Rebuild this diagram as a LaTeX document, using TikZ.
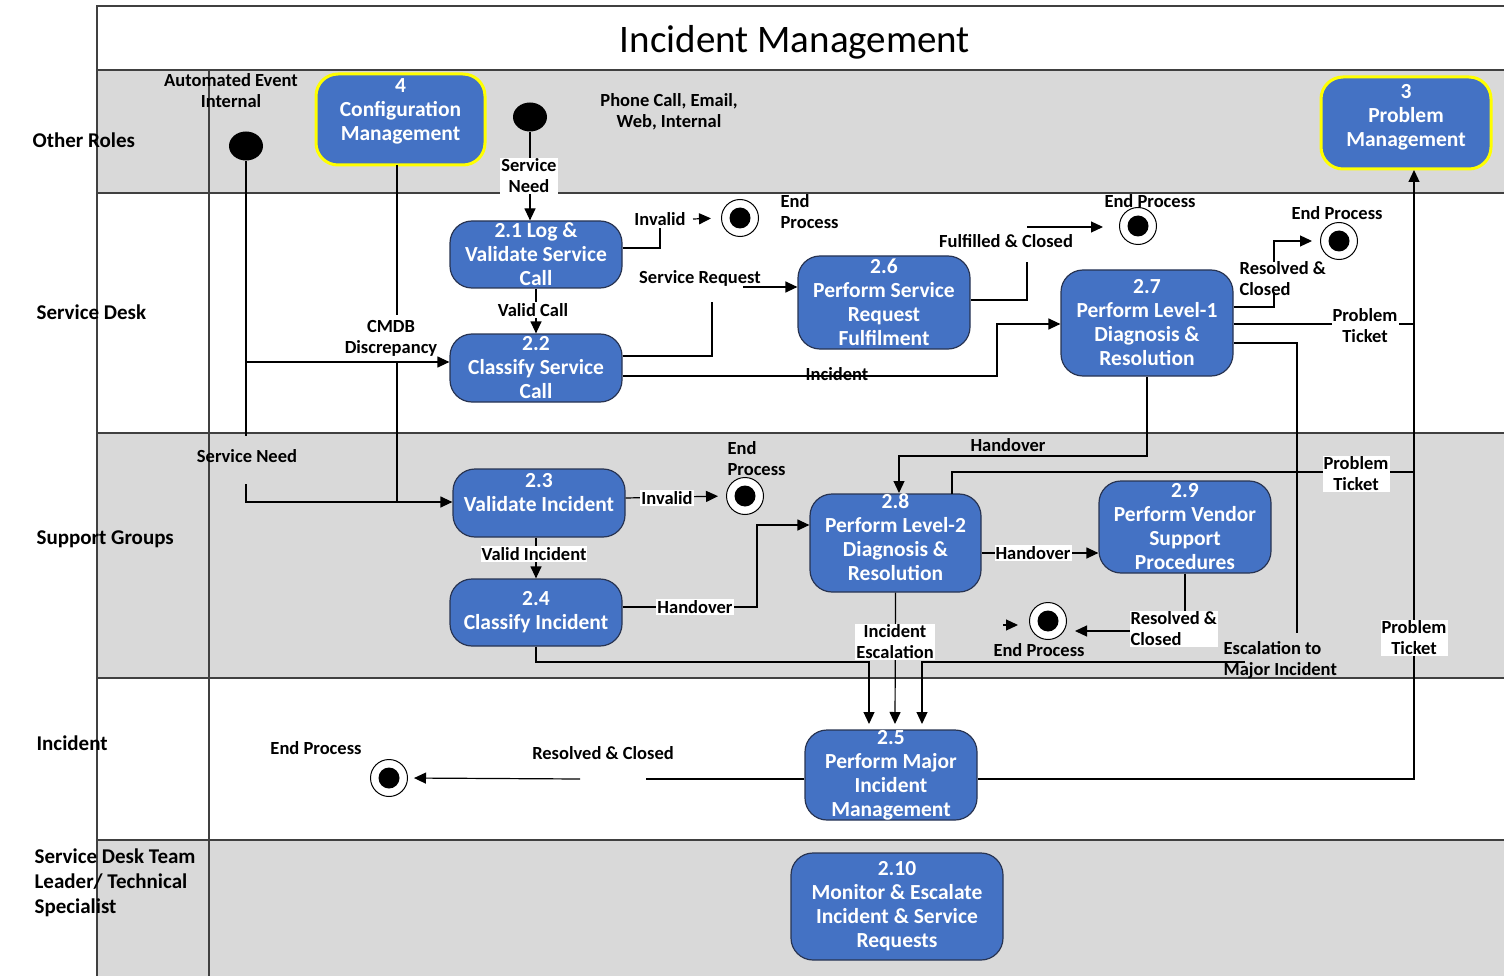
\documentclass[tikz,border=0pt]{standalone}
\usepackage{fontspec}
\setmainfont{Carlito}
\usetikzlibrary{arrows.meta,shapes.geometric}

\definecolor{boxblue}{RGB}{68,114,196}
\definecolor{boxline}{RGB}{40,52,82}
\definecolor{extline}{RGB}{255,255,0}
\definecolor{lanegray}{RGB}{217,217,217}
\definecolor{gridline}{RGB}{64,64,64}

\tikzset{every picture/.style={line width=1.2pt}}
\tikzset{
  proc/.style={draw=boxline, fill=boxblue, rounded corners=22pt, text=white, align=center,
    font=\fontsize{21.5}{24}\bfseries\selectfont, inner xsep=4pt, inner ysep=0pt, line width=1.2pt},
  extproc/.style={proc, draw=extline, line width=3pt},
  startdot/.style={ellipse, fill=black, minimum width=34pt, minimum height=29pt, inner sep=0pt},
  endstate/.style={circle, draw=black, fill=white, line width=1pt, minimum size=37pt, inner sep=0pt,
    path picture={\fill[black] (path picture bounding box.center) circle (10.5pt);}},
  lbl/.style={font=\fontsize{18.5}{21}\bfseries\selectfont, align=center, inner sep=1pt},
  lblw/.style={lbl, fill=white},
  lanetext/.style={font=\fontsize{21}{25}\bfseries\selectfont, anchor=west, align=left, inner sep=0pt},
  grid/.style={draw=gridline, line width=1.3pt},
  arr/.style={-{Triangle[length=12pt,width=11pt]}},
}

\begin{document}
\begin{tikzpicture}[x=1pt,y=1pt,yscale=-1,xscale=1]
        \useasboundingbox (0,0) rectangle (1504,976);

        %Shape: lanes
        \fill[lanegray] (97,70) rectangle (1504,193);
        \fill[lanegray] (97,433) rectangle (1504,678);
        \fill[lanegray] (97,840) rectangle (1504,976);
        \draw[grid] (1504,6) -- (97,6) -- (97,976);
        \foreach \ly in {70,193,433,678,840}
          \draw[grid] (97,\ly) -- (1504,\ly);
        \draw[grid] (209,70) -- (209,976);

        % Text Node
        \node[font=\fontsize{39}{44}\selectfont] (title) at (795,42) {Incident Management};
        \node[lanetext] (lnOther) at (32,140) {Other Roles};
        \node[lanetext] (lnDesk) at (36,312) {Service Desk};
        \node[lanetext] (lnSupport) at (36,539) {Support Groups};
        \node[lanetext] (lnIncident) at (36,743) {Incident};
        \node[lanetext, anchor=north west] (lnLeader) at (34,848) {Service Desk Team\\Leader/ Technical\\Specialist};

        %Shape: start and end states
        \node[startdot] (s1) at (246,146) {};
        \node[startdot] (s2) at (530,117) {};
        \node[endstate] (e1) at (740,218) {};
        \node[endstate] (e2) at (1138,226) {};
        \node[endstate] (e3) at (1339,241) {};
        \node[endstate] (e4) at (745,496) {};
        \node[endstate] (e5) at (1048,621) {};
        \node[endstate] (e6) at (389,778) {};

        %Shape: process boxes
        \node[extproc, minimum width=169pt, minimum height=91pt] (n4) at (400.5,119.5) {4\\Configuration\\Management\\[-5pt]\mbox{}};
        \node[extproc, minimum width=170pt, minimum height=92pt] (n3) at (1406,123) {3\\Problem\\Management\\[-9pt]\mbox{}};
        \node[proc, minimum width=172pt, minimum height=67pt] (n21) at (536,254.5) {2.1 Log \&\\Validate Service\\Call};
        \node[proc, minimum width=172pt, minimum height=68pt] (n22) at (536,368) {2.2\\Classify Service\\Call};
        \node[proc, minimum width=172pt, minimum height=93pt] (n26) at (884,302.5) {2.6\\Perform Service\\Request\\Fulfilment};
        \node[proc, minimum width=172pt, minimum height=106pt] (n27) at (1147,323) {2.7\\Perform Level-1\\Diagnosis \&\\Resolution};
        \node[proc, minimum width=172pt, minimum height=68pt] (n23) at (539,503) {2.3\\Validate Incident\\[-3pt]\mbox{}};
        \node[proc, minimum width=172pt, minimum height=67pt] (n24) at (536,612.5) {2.4\\Classify Incident};
        \node[proc, minimum width=171pt, minimum height=98pt] (n28) at (895.5,543) {2.8\\Perform Level-2\\Diagnosis \&\\Resolution\\[-13pt]\mbox{}};
        \node[proc, minimum width=172pt, minimum height=92pt] (n29) at (1185,527) {2.9\\Perform Vendor\\Support\\Procedures};
        \node[proc, minimum width=172pt, minimum height=90pt] (n25) at (891,775) {2.5\\Perform Major\\Incident\\Management};
        \node[proc, minimum width=212pt, minimum height=107pt] (n210) at (897,906.5) {2.10\\Monitor \& Escalate\\Incident \& Service\\Requests};

        %Straight Lines: other roles
        \draw (s1) -- (246,436);
        \draw[arr] (246,484) |- (n23.west |- 0,502);
        \draw[arr] (246,362) -- (n22.west |- 0,362);
        \draw (397,165) -- (397,315);
        \draw (397,362) -- (397,502);
        \draw[arr] (s2) -- (s2 |- n21.north);

        %Straight Lines: service desk
        \draw (n21.east |- 0,248) -| (660,228);
        \draw[arr, shorten >=10pt] (693,219) -- (e1.west);
        \draw[arr] (n21.south) -- (n22.north);
        \draw (n22.east |- 0,356) -| (712,302);
        \draw[arr] (743,287) -- (n26.west |- 0,287);
        \draw[arr] (n22.east |- 0,376) -| (997,324) -- (n27.west |- 0,324);
        \draw (n26.east |- 0,300) -| (1027,262);
        \draw[arr, shorten >=16pt] (1027,227) -- (e2.west |- 0,227);
        \draw (n27.east |- 0,307) -| (1274,292);
        \draw[arr, shorten >=8pt] (1274,262) |- (e3.west);
        \draw (n27.east |- 0,324) -- (1414,324);
        \draw (n27.east |- 0,343) -| (1297,633);
        \draw[arr] (n27.south) |- (899,456) -- (899,493);

        %Straight Lines: support groups
        \draw[arr, shorten >=8pt] (n23.east |- 0,498) -- (e4.west);
        \draw[arr] (n24.north |- n23.south) -- (n24.north);
        \draw[arr] (n24.east |- 0,607) -| (757,525) -- (n28.west |- 0,525);
        \draw (952,494) |- (1414,472);
        \draw[arr] (n28.east |- 0,553) -- (n29.west |- 0,553);
        \draw[arr, shorten >=8pt] (n29.south) |- (e5.east |- 0,631);
        \draw[arr] (1003,625) -- (1018,625);
        \draw[arr] (n24.south) |- (869,662) -- (869,724);
        \draw[arr] (n28.south) -- (895,724);
        \draw[arr] (1245,662) -- (922,662) -- (922,724);

        %Straight Lines: incident
        \draw[arr] (n25.east |- 0,779) -| (1414,170);
        \draw (n25.west |- 0,779) -- (646,779);
        \draw[arr, shorten >=6pt] (580,779) -- (e6.east);

        % Text Node
        \node[lbl] (tAuto) at (231,91) {Automated Event\\Internal};
        \node[lbl] (tPhone) at (669,112) {Phone Call, Email,\\Web, Internal};
        \node[lblw] (tNeed1) at (529,176) {Service\\Need};
        \node[lbl] (tInv1) at (660,219) {Invalid};
        \node[lbl, align=left, anchor=west] (tEnd1) at (779,212) {End\\Process};
        \node[lblw] (tValid) at (533,310) {Valid Call};
        \node[lbl] (tCmdb) at (391,338) {CMDB\\Discrepancy};
        \node[lbl] (tReq) at (700,278) {Service Request};
        \node[lbl] (tInc) at (837,374) {Incident};
        \node[lbl] (tFul) at (1006,241) {Fulfilled \& Closed};
        \node[lbl] (tEnd2) at (1150,201) {End Process};
        \node[lbl] (tEnd3) at (1337,213) {End Process};
        \node[lbl, align=left, anchor=west] (tRes1) at (1238,279) {Resolved \&\\Closed};
        \node[lblw] (tProb1) at (1365,326) {Problem\\Ticket};
        \node[lbl] (tHand1) at (1008,445) {Handover};
        \node[lbl] (tNeed2) at (247,456) {Service Need};
        \node[lblw] (tInv2) at (667,498) {Invalid};
        \node[lbl, align=left, anchor=west] (tEnd4) at (726,459) {End\\Process};
        \node[lblw] (tValidInc) at (534,554) {Valid Incident};
        \node[lblw] (tHand2) at (695,607) {Handover};
        \node[lblw] (tHand3) at (1033,553) {Handover};
        \node[lblw] (tProb2) at (1356,474) {Problem\\Ticket};
        \node[lblw, align=left, anchor=west] (tRes2) at (1129,629) {Resolved \&\\Closed};
        \node[lbl] (tEnd5) at (1039,650) {End Process};
        \node[lblw] (tEsc) at (895,642) {Incident\\Escalation};
        \node[lbl, align=left, anchor=west] (tMajor) at (1222,660) {Escalation to\\Major Incident};
        \node[lblw] (tProb3) at (1414,638) {Problem\\Ticket};
        \node[lbl] (tEnd6) at (316,748) {End Process};
        \node[lbl] (tRes3) at (603,753) {Resolved \& Closed};

\end{tikzpicture}
\end{document}
